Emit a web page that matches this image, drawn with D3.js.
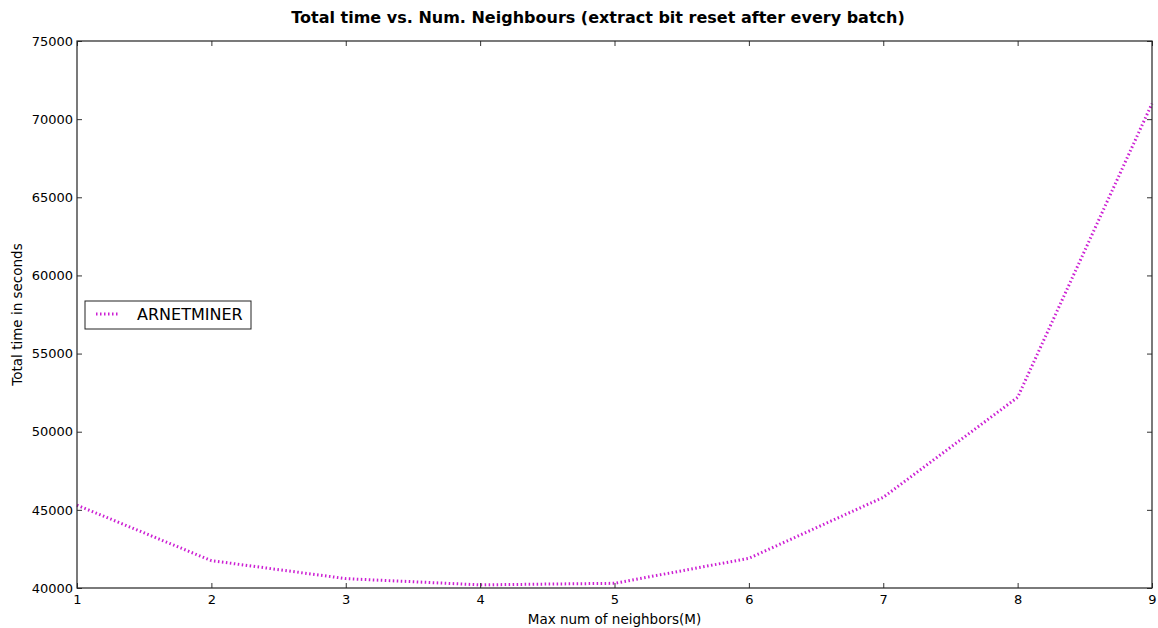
<!DOCTYPE html>
<html>
<head>
<meta charset="utf-8">
<script src="https://cdn.jsdelivr.net/npm/d3@7"></script>
<style>
  html, body { margin: 0; padding: 0; background: #fff; }
  svg { display: block; font-family: "DejaVu Sans", sans-serif; }
</style>
</head>
<body>
<svg id="chart" width="1158" height="628"></svg>
<script>
// Max number of neighbours (M) and total run time in seconds
const neighbors = [1, 2, 3, 4, 5, 6, 7, 8, 9];
const totalTime = [45300, 41750, 40600, 40200, 40300, 41900, 45800, 52200, 71000];
const xTicks = [1, 2, 3, 4, 5, 6, 7, 8, 9];
const yTicks = [40000, 45000, 50000, 55000, 60000, 65000, 70000, 75000];
const seriesName = "ARNETMINER";

const svg = d3.select("#chart");
const margin = { left: 77, right: 6, top: 41, bottom: 40 };
const W = 1158, H = 628;
const plotW = W - margin.left - margin.right;
const plotH = H - margin.top - margin.bottom;

const x = d3.scaleLinear().domain([1, 9]).range([margin.left, margin.left + plotW]);
const y = d3.scaleLinear().domain([40000, 75000]).range([margin.top + plotH, margin.top]);

const lineColor = "#cc1fd3";
const tickLen = 5;

// Line
const line = d3.line().x((d, i) => x(neighbors[i])).y(d => y(d));
svg.append("path")
  .datum(totalTime)
  .attr("d", line)
  .attr("fill", "none")
  .attr("stroke", lineColor)
  .attr("stroke-width", 3)
  .attr("stroke-dasharray", "1.5,2.5");

// Axes: ticks point inward on all four sides
function styleAxis(g) {
  g.select(".domain").remove();
  g.selectAll(".tick line").attr("stroke", "#333").attr("stroke-width", 1);
  g.selectAll(".tick text").attr("fill", "#000").style("font-size", "13px")
    .style("font-family", "'DejaVu Sans', sans-serif");
}

svg.append("g")
  .attr("transform", `translate(0,${margin.top + plotH})`)
  .call(d3.axisBottom(x).tickValues(xTicks).tickFormat(d3.format("d"))
    .tickSizeInner(-tickLen).tickSizeOuter(0).tickPadding(7))
  .call(styleAxis);

svg.append("g")
  .attr("transform", `translate(0,${margin.top})`)
  .call(d3.axisTop(x).tickValues(xTicks).tickFormat("")
    .tickSizeInner(-tickLen).tickSizeOuter(0))
  .call(styleAxis);

svg.append("g")
  .attr("transform", `translate(${margin.left},0)`)
  .call(d3.axisLeft(y).tickValues(yTicks).tickFormat(d3.format("d"))
    .tickSizeInner(-tickLen).tickSizeOuter(0).tickPadding(4))
  .call(styleAxis);

svg.append("g")
  .attr("transform", `translate(${margin.left + plotW},0)`)
  .call(d3.axisRight(y).tickValues(yTicks).tickFormat("")
    .tickSizeInner(-tickLen).tickSizeOuter(0))
  .call(styleAxis);

// Plot frame
svg.append("rect")
  .attr("x", margin.left).attr("y", margin.top)
  .attr("width", plotW).attr("height", plotH)
  .attr("fill", "none").attr("stroke", "#222").attr("stroke-width", 1.2);

// Title
svg.append("text")
  .attr("x", 598).attr("y", 23)
  .attr("text-anchor", "middle")
  .style("font-size", "16px").style("font-weight", "bold")
  .text("Total time vs. Num. Neighbours (extract bit reset after every batch)");

// Axis labels
svg.append("text")
  .attr("x", margin.left + plotW / 2).attr("y", 624)
  .attr("text-anchor", "middle")
  .style("font-size", "13.5px")
  .text("Max num of neighbors(M)");

svg.append("text")
  .attr("transform", `translate(22,${margin.top + plotH / 2}) rotate(-90)`)
  .attr("text-anchor", "middle")
  .style("font-size", "13.5px")
  .text("Total time in seconds");

// Legend
const lg = svg.append("g").attr("transform", "translate(85,301)");
lg.append("rect")
  .attr("width", 166).attr("height", 28)
  .attr("fill", "#fff").attr("stroke", "#222").attr("stroke-width", 1);
lg.append("line")
  .attr("x1", 11).attr("x2", 35).attr("y1", 13).attr("y2", 13)
  .attr("stroke", lineColor).attr("stroke-width", 3)
  .attr("stroke-dasharray", "1.5,2.5");
lg.append("text")
  .attr("x", 52).attr("y", 19)
  .style("font-size", "16px")
  .text(seriesName);
</script>
</body>
</html>
